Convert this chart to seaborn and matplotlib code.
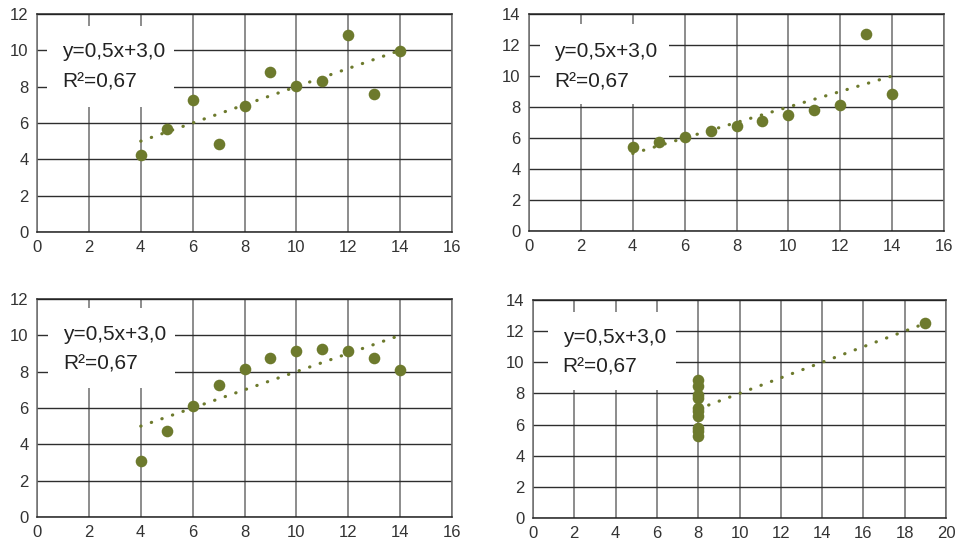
import numpy as np
import pandas as pd
import seaborn as sns
import matplotlib
matplotlib.use("Agg")
import matplotlib.pyplot as plt
from matplotlib.patches import Rectangle

# Panel data (Anscombe-like quartet as drawn)
x1 = [10, 8, 13, 9, 11, 14, 6, 4, 12, 7, 5]
y1 = [8.04, 6.95, 7.58, 8.81, 8.33, 9.96, 7.24, 4.26, 10.84, 4.82, 5.68]
x2 = [10, 8, 13, 9, 11, 14, 6, 4, 12, 7, 5]
y2 = [7.46, 6.77, 12.74, 7.11, 7.81, 8.84, 6.08, 5.39, 8.15, 6.42, 5.73]
x3 = [10, 8, 13, 9, 11, 14, 6, 4, 12, 7, 5]
y3 = [9.14, 8.14, 8.74, 8.77, 9.26, 8.10, 6.13, 3.10, 9.13, 7.26, 4.74]
x4 = [8, 8, 8, 8, 8, 8, 8, 19, 8, 8, 8]
y4 = [6.58, 5.76, 7.71, 8.84, 8.47, 7.04, 5.25, 12.50, 5.56, 7.91, 6.89]

eq_label = "y=0,5x+3,0"
r2_label = "R\u00b2=0,67"

x_limits = [16, 16, 16, 20]
y_limits = [12, 14, 12, 14]

sns.set_theme(style="white")
plt.rcParams['font.family'] = ['Liberation Sans', 'DejaVu Sans']

color = "#6d7a2d"
fig = plt.figure(figsize=(9.58, 5.46), dpi=100)
W, H = 958, 546
rects = [(37, 14, 452, 232), (529, 14, 944, 231), (37, 299, 452, 517), (533, 300, 946, 518)]
# label box (x0, x1, y0, y1) and text (x, y_line1, y_line2) in axes fractions
boxes = [(0.024, 0.331, 0.574, 0.944), (0.027, 0.338, 0.585, 0.954),
         (0.027, 0.333, 0.592, 0.959), (0.036, 0.347, 0.587, 0.945)]
texts = [(0.060, 0.829, 0.690), (0.060, 0.825, 0.687),
         (0.063, 0.835, 0.702), (0.072, 0.830, 0.693)]
data = [(x1, y1), (x2, y2), (x3, y3), (x4, y4)]

for i, ((xs, ys), (l, t, r, b)) in enumerate(zip(data, rects)):
    ax = fig.add_axes([l / W, 1 - b / H, (r - l) / W, (b - t) / H])
    df = pd.DataFrame({"x": xs, "y": ys})
    sns.regplot(data=df, x="x", y="y", ax=ax, ci=None, truncate=True,
                scatter_kws=dict(s=70, color=color, alpha=1, linewidths=0, zorder=4),
                line_kws=dict(color=color, linestyle=(0, (0.1, 3.4)), linewidth=2.3,
                              dash_capstyle="round", zorder=3))
    xm, ym = x_limits[i], y_limits[i]
    ax.set_xlim(0, xm)
    ax.set_ylim(0, ym)
    ax.set_xticks(np.arange(0, xm + 1, 2))
    ax.set_yticks(np.arange(0, ym + 1, 2))
    ax.xaxis.grid(True, color="#6e6e6e", linewidth=1.1)
    ax.yaxis.grid(True, color="#2e2e2e", linewidth=1.0)
    ax.set_axisbelow(True)
    for name, s in ax.spines.items():
        s.set_color("#222222" if name in ("top", "bottom") else "#6e6e6e")
        s.set_linewidth(1.1)
    ax.set_xlabel("")
    ax.set_ylabel("")
    ax.tick_params(axis="both", length=0, labelsize=12, colors="#333333", pad=6)
    bx0, bx1, by0, by1 = boxes[i]
    ax.add_patch(Rectangle((bx0, by0), bx1 - bx0, by1 - by0, transform=ax.transAxes,
                           facecolor="white", edgecolor="none", zorder=2.5))
    tx, ty1, ty2 = texts[i]
    ax.text(tx, ty1, eq_label, transform=ax.transAxes, fontsize=15,
            color="#222222", va="center", ha="left", zorder=5)
    ax.text(tx, ty2, r2_label, transform=ax.transAxes, fontsize=15,
            color="#222222", va="center", ha="left", zorder=5)

fig.savefig("out.png", dpi=100)
